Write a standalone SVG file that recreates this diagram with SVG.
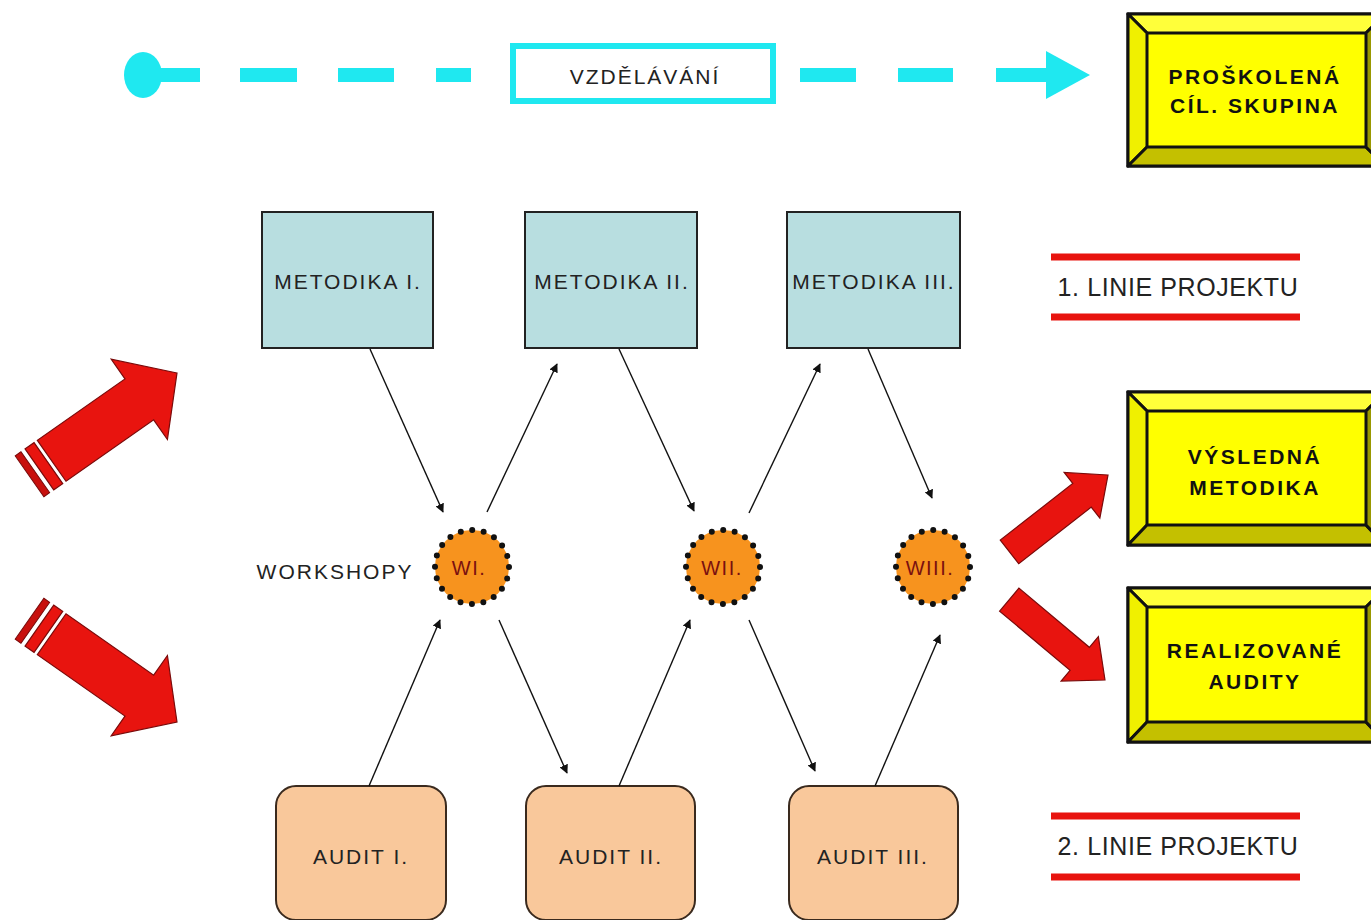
<svg xmlns="http://www.w3.org/2000/svg" width="1371" height="920" viewBox="0 0 1371 920">
<style>
.txt{font-family:"Liberation Sans",Arial,sans-serif;font-size:21px;fill:#222;letter-spacing:2px;text-anchor:middle}
.btxt{font-family:"Liberation Sans",Arial,sans-serif;font-size:21px;font-weight:bold;fill:#111;letter-spacing:2.5px;text-anchor:middle}
.wtxt{font-family:"Liberation Sans",Arial,sans-serif;font-size:20px;fill:#7a1010;letter-spacing:1.5px;text-anchor:middle}
.ltxt{font-family:"Liberation Sans",Arial,sans-serif;font-size:25px;fill:#222;letter-spacing:0.6px;text-anchor:middle}
.met{fill:#b8dee0;stroke:#222;stroke-width:2}
.aud{fill:#f9c89b;stroke:#3a2a1e;stroke-width:2}
.ws{fill:#f7931e}
.wsd{fill:none;stroke:#111;stroke-width:6;stroke-linecap:round}
.cy{fill:#1fe8f0}
.red{fill:#e8140f;stroke:#7a0a0a;stroke-width:1.2}
.redd{fill:#c8100d;stroke:#7a0a0a;stroke-width:1}
.rl{stroke:#e8140f;stroke-width:7}
.conn{stroke:#111;stroke-width:1.4;fill:none;marker-end:url(#ah)}
.bface{fill:#ffff00;stroke:#111;stroke-width:3}
.btop{fill:#ffff3a;stroke:#111;stroke-width:3;stroke-linejoin:round}
.bleft{fill:#f0f000;stroke:#111;stroke-width:3;stroke-linejoin:round}
.bbot{fill:#c4c000;stroke:#111;stroke-width:3;stroke-linejoin:round}
.bright{fill:#9a9800;stroke:#111;stroke-width:3;stroke-linejoin:round}
</style>
<defs>
<marker id="ah" viewBox="0 0 10 10" refX="9" refY="5" markerWidth="9" markerHeight="9" markerUnits="userSpaceOnUse" orient="auto">
<path d="M0,0 L10,5 L0,10 Z" fill="#111"/>
</marker>
<g id="bigArrow">
<path class="red" d="M0,0 L-46,-49 L-46,-25 L-153,-25 L-153,25 L-46,25 L-46,49 Z"/>
<rect class="red" x="-168" y="-25" width="11" height="50"/>
<rect class="redd" x="-180" y="-25" width="7" height="50"/>
</g>
<path id="smallArrow" class="red" d="M0,0 L-33,-29 L-33,-15 L-125,-15 L-125,15 L-33,15 L-33,29 Z"/>
</defs>
<rect width="1371" height="920" fill="#fff"/>

<g id="vzdelavani">
<ellipse class="cy" cx="143" cy="75" rx="19" ry="23"/>
<rect class="cy" x="143" y="68" width="57" height="14"/>
<rect class="cy" x="240" y="68" width="57" height="14"/>
<rect class="cy" x="338" y="68" width="56" height="14"/>
<rect class="cy" x="436" y="68" width="35" height="14"/>
<rect x="513" y="46" width="260" height="55" fill="#fff" stroke="#1fe8f0" stroke-width="6"/>
<text class="txt" x="645" y="84">VZDĚLÁVÁNÍ</text>
<rect class="cy" x="800" y="68" width="56" height="14"/>
<rect class="cy" x="898" y="68" width="55" height="14"/>
<rect class="cy" x="996" y="68" width="54" height="14"/>
<path class="cy" d="M1046,51 L1090,75 L1046,99 Z"/>
</g>

<g id="proskolena">
<rect class="bface" x="1128" y="14" width="257" height="152"/>
<path class="btop" d="M1128,14 L1385,14 L1366,33 L1147,33 Z"/>
<path class="bleft" d="M1128,14 L1147,33 L1147,147 L1128,166 Z"/>
<path class="bbot" d="M1128,166 L1147,147 L1366,147 L1385,166 Z"/>
<path class="bright" d="M1385,14 L1385,166 L1366,147 L1366,33 Z"/>
<text class="btxt" x="1255" y="84">PROŠKOLENÁ</text>
<text class="btxt" x="1255" y="113">CÍL. SKUPINA</text>
</g>

<g id="vysledna">
<rect class="bface" x="1128" y="392" width="257" height="153"/>
<path class="btop" d="M1128,392 L1385,392 L1366,411 L1147,411 Z"/>
<path class="bleft" d="M1128,392 L1147,411 L1147,525 L1128,545 Z"/>
<path class="bbot" d="M1128,545 L1147,525 L1366,525 L1385,545 Z"/>
<path class="bright" d="M1385,392 L1385,545 L1366,525 L1366,411 Z"/>
<text class="btxt" x="1255" y="464">VÝSLEDNÁ</text>
<text class="btxt" x="1255" y="495">METODIKA</text>
</g>

<g id="realizovane">
<rect class="bface" x="1128" y="588" width="257" height="154"/>
<path class="btop" d="M1128,588 L1385,588 L1366,607 L1147,607 Z"/>
<path class="bleft" d="M1128,588 L1147,607 L1147,722 L1128,742 Z"/>
<path class="bbot" d="M1128,742 L1147,722 L1366,722 L1385,742 Z"/>
<path class="bright" d="M1385,588 L1385,742 L1366,722 L1366,607 Z"/>
<text class="btxt" x="1255" y="658">REALIZOVANÉ</text>
<text class="btxt" x="1255" y="689">AUDITY</text>
</g>

<g id="metodika1"><rect class="met" x="262" y="212" width="171" height="136"/><text class="txt" x="348" y="289">METODIKA I.</text></g>
<g id="metodika2"><rect class="met" x="525" y="212" width="172" height="136"/><text class="txt" x="612" y="289">METODIKA II.</text></g>
<g id="metodika3"><rect class="met" x="787" y="212" width="173" height="136"/><text class="txt" x="874" y="289">METODIKA III.</text></g>

<g id="audit1"><rect class="aud" x="276" y="786" width="170" height="134" rx="20"/><text class="txt" x="361" y="864">AUDIT I.</text></g>
<g id="audit2"><rect class="aud" x="526" y="786" width="169" height="134" rx="20"/><text class="txt" x="611" y="864">AUDIT II.</text></g>
<g id="audit3"><rect class="aud" x="789" y="786" width="169" height="134" rx="20"/><text class="txt" x="873" y="864">AUDIT III.</text></g>

<g id="workshopy-label"><text class="txt" x="335" y="579">WORKSHOPY</text></g>

<g id="w1"><circle class="ws" cx="472" cy="567" r="37"/><circle class="wsd" cx="472" cy="567" r="37" stroke-dasharray="0 11.62"/><text class="wtxt" x="469" y="575">WI.</text></g>
<g id="w2"><circle class="ws" cx="723" cy="567" r="37"/><circle class="wsd" cx="723" cy="567" r="37" stroke-dasharray="0 11.62"/><text class="wtxt" x="722" y="575">WII.</text></g>
<g id="w3"><circle class="ws" cx="933" cy="567" r="37"/><circle class="wsd" cx="933" cy="567" r="37" stroke-dasharray="0 11.62"/><text class="wtxt" x="930" y="575">WIII.</text></g>

<g id="linie1"><line class="rl" x1="1051" y1="257" x2="1300" y2="257"/><line class="rl" x1="1051" y1="317" x2="1300" y2="317"/><text class="ltxt" x="1178" y="296">1. LINIE PROJEKTU</text></g>
<g id="linie2"><line class="rl" x1="1051" y1="816" x2="1300" y2="816"/><line class="rl" x1="1051" y1="877" x2="1300" y2="877"/><text class="ltxt" x="1178" y="855">2. LINIE PROJEKTU</text></g>

<g id="red-arrows">
<use href="#bigArrow" transform="translate(177,373) rotate(-35)"/>
<use href="#bigArrow" transform="translate(177,722) rotate(35)"/>
<use href="#smallArrow" transform="translate(1108,475) rotate(-38)"/>
<use href="#smallArrow" transform="translate(1105,680) rotate(40)"/>
</g>

<g id="connectors">
<line class="conn" x1="370" y1="349" x2="443" y2="512"/>
<line class="conn" x1="487" y1="512" x2="557" y2="364"/>
<line class="conn" x1="619" y1="349" x2="694" y2="511"/>
<line class="conn" x1="749" y1="513" x2="820" y2="364"/>
<line class="conn" x1="868" y1="349" x2="932" y2="498"/>
<line class="conn" x1="369" y1="786" x2="440" y2="620"/>
<line class="conn" x1="499" y1="620" x2="567" y2="773"/>
<line class="conn" x1="619" y1="786" x2="690" y2="620"/>
<line class="conn" x1="749" y1="620" x2="815" y2="771"/>
<line class="conn" x1="875" y1="786" x2="940" y2="635"/>
</g>
</svg>
